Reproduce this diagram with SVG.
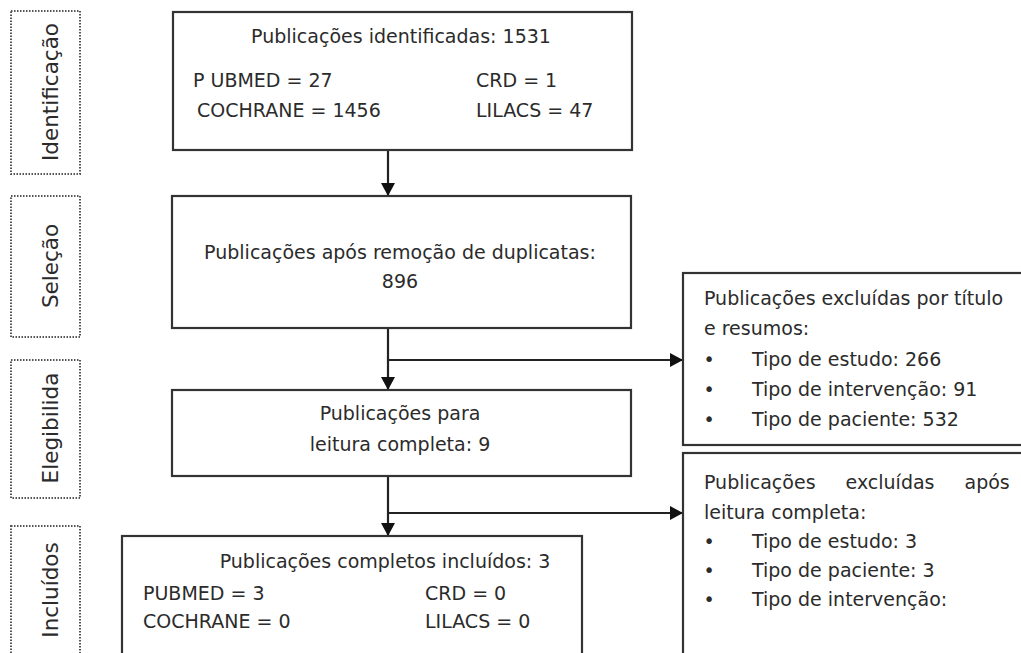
<svg xmlns="http://www.w3.org/2000/svg" width="1021" height="653" viewBox="0 0 1021 653">
<style>
text{font-family:"DejaVu Sans","Liberation Sans",sans-serif;font-size:19px;fill:#2b2b2b;}
.phase{fill:#fff;stroke:#555;stroke-width:2;stroke-dasharray:1.5 1.5;}
.box{fill:#fff;stroke:#333;stroke-width:2.2;}
.plabel{font-size:21.5px;text-anchor:middle;}
.c{text-anchor:middle;}
.conn{fill:none;stroke:#222;stroke-width:2.2;}
</style>
<defs>
<marker id="ah" markerUnits="userSpaceOnUse" markerWidth="14" markerHeight="14" refX="13" refY="7" orient="auto">
<path d="M0,0 L13,7 L0,14 z" fill="#111"/>
</marker>
</defs>
<rect width="1021" height="653" fill="#fff"/>

<g id="phase-identificacao">
<rect class="phase" x="11" y="11" width="69" height="163"/>
<text class="plabel" transform="translate(58,92) rotate(-90)">Identificação</text>
</g>
<g id="phase-selecao">
<rect class="phase" x="11" y="196" width="69" height="141"/>
<text class="plabel" transform="translate(58,266) rotate(-90)">Seleção</text>
</g>
<g id="phase-elegibilidade">
<rect class="phase" x="11" y="360" width="69" height="138"/>
<text class="plabel" transform="translate(58,428) rotate(-90)">Elegibilida</text>
</g>
<g id="phase-incluidos">
<rect class="phase" x="11" y="526" width="69" height="140"/>
<text class="plabel" transform="translate(58,590) rotate(-90)">Incluídos</text>
</g>

<g id="connectors">
<line class="conn" x1="388" y1="150" x2="388" y2="196" marker-end="url(#ah)"/>
<line class="conn" x1="388" y1="328" x2="388" y2="390" marker-end="url(#ah)"/>
<line class="conn" x1="388" y1="360" x2="683" y2="360" marker-end="url(#ah)"/>
<line class="conn" x1="388" y1="476" x2="388" y2="536" marker-end="url(#ah)"/>
<line class="conn" x1="388" y1="513" x2="683" y2="513" marker-end="url(#ah)"/>
</g>

<g id="node-identificadas">
<rect class="box" x="173" y="12" width="459" height="138"/>
<text class="c" x="401" y="43">Publicações identificadas: 1531</text>
<text x="193" y="87">P UBMED = 27</text>
<text x="197" y="117">COCHRANE = 1456</text>
<text x="476" y="87">CRD = 1</text>
<text x="476" y="117">LILACS = 47</text>
</g>

<g id="node-duplicatas">
<rect class="box" x="172" y="196" width="459" height="132"/>
<text class="c" x="400" y="259">Publicações após remoção de duplicatas:</text>
<text class="c" x="400" y="288">896</text>
</g>

<g id="node-leitura">
<rect class="box" x="172" y="390" width="459" height="86"/>
<text class="c" x="400" y="420">Publicações para</text>
<text class="c" x="400" y="451">leitura completa: 9</text>
</g>

<g id="node-incluidos">
<rect class="box" x="122" y="536" width="460" height="130"/>
<text class="c" x="385" y="568">Publicações completos incluídos: 3</text>
<text x="143" y="600">PUBMED = 3</text>
<text x="143" y="628">COCHRANE = 0</text>
<text x="425" y="600">CRD = 0</text>
<text x="425" y="628">LILACS = 0</text>
</g>

<g id="node-excluidas-titulo">
<rect class="box" x="683" y="273" width="345" height="172"/>
<text x="704" y="305">Publicações excluídas por título</text>
<text x="704" y="335">e resumos:</text>
<text class="c" x="709" y="366">•</text>
<text x="752" y="366">Tipo de estudo: 266</text>
<text class="c" x="709" y="396">•</text>
<text x="752" y="396">Tipo de intervenção: 91</text>
<text class="c" x="709" y="426">•</text>
<text x="752" y="426">Tipo de paciente: 532</text>
</g>

<g id="node-excluidas-leitura">
<rect class="box" x="683" y="453" width="345" height="215"/>
<text x="704" y="489" word-spacing="24">Publicações excluídas após</text>
<text x="704" y="519">leitura completa:</text>
<text class="c" x="709" y="548">•</text>
<text x="752" y="548">Tipo de estudo: 3</text>
<text class="c" x="709" y="577">•</text>
<text x="752" y="577">Tipo de paciente: 3</text>
<text class="c" x="709" y="606">•</text>
<text x="752" y="606">Tipo de intervenção:</text>
</g>
</svg>
